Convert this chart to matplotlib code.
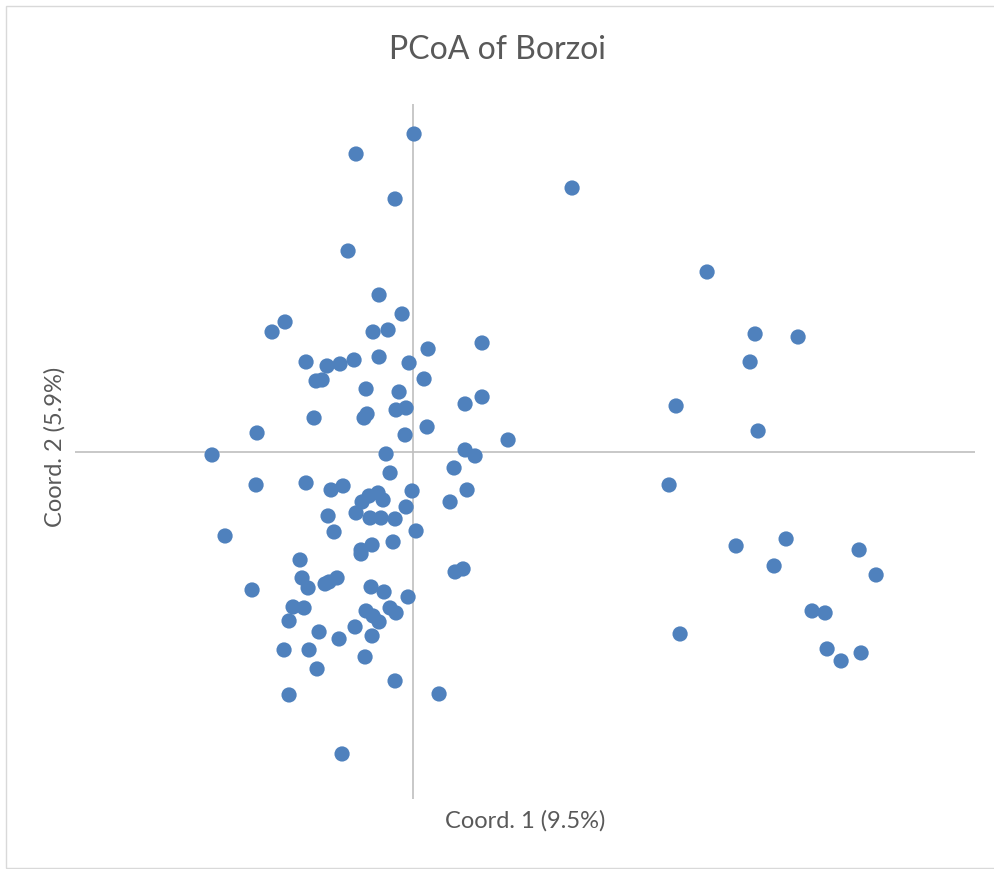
import matplotlib.pyplot as plt
from matplotlib.patches import Rectangle

# PCoA coordinates (arbitrary units)
coord1 = [0.01, -0.57, -0.18, -0.65, 1.59,
          -0.34, -0.11, -1.28, -1.41, -0.40, -0.25, 0.69, 0.15, -1.07, -0.86,
          -0.73, -0.59, -0.34, -0.04, 0.11, -0.97, -0.91, -0.47, -0.14, 0.69,
          0.52, -0.17, -0.07, -0.99, -0.49, -0.46, 0.14, -1.56, -0.08, 0.95,
          -2.01, -0.27, 0.52, 0.62, 0.41, -0.23,
          -1.57, -1.07, -0.82, -0.70, -0.44, -0.35, -0.30, -0.51, -0.01, 0.54,
          0.37, -0.07, -0.57, -0.85, -0.43, -0.32, -0.18, -0.79, 0.03, -1.88,
          -0.41, -0.52, -0.52, -0.20, -1.13, 0.42, 0.50, -1.11, -1.05, -0.88,
          -0.84, -0.76, -1.61, -0.42, -0.29, -0.05, -1.20, -1.09, -1.24, -0.47,
          -0.40, -0.34, -0.23, -0.17, -0.94, -0.74, -0.58, -0.41,
          -1.29, -1.04, -0.48, -0.96, -0.18, -1.24, 0.26, -0.71,
          2.94, 3.42, 3.85, 3.37, 2.63, 3.45, 2.56, 3.23, 3.73, 4.46,
          3.61, 4.63, 3.99, 4.12, 2.67, 4.14, 4.48, 4.28]
coord2 = [3.18, 2.98, 2.53, 2.01, 2.64,
          1.57, 1.38, 1.30, 1.20, 1.20, 1.22, 1.09, 1.03, 0.90, 0.86,
          0.88, 0.92, 0.95, 0.89, 0.73, 0.71, 0.72, 0.63, 0.60, 0.55,
          0.48, 0.42, 0.44, 0.34, 0.34, 0.38, 0.25, 0.19, 0.17, 0.12,
          -0.03, -0.02, 0.02, -0.04, -0.16, -0.21,
          -0.33, -0.31, -0.38, -0.34, -0.44, -0.41, -0.48, -0.50, -0.39, -0.38,
          -0.50, -0.55, -0.61, -0.64, -0.66, -0.66, -0.67, -0.80, -0.79, -0.84,
          -0.93, -0.98, -1.02, -0.90, -1.08, -1.20, -1.17, -1.26, -1.36, -1.32,
          -1.30, -1.26, -1.38, -1.35, -1.40, -1.45, -1.55, -1.56, -1.69, -1.59,
          -1.64, -1.70, -1.56, -1.61, -1.80, -1.87, -1.75, -1.84,
          -1.98, -1.98, -2.05, -2.17, -2.29, -2.43, -2.42, -3.02,
          1.80, 1.18, 1.15, 0.90, 0.46, 0.21, -0.33, -0.94, -0.87, -0.98,
          -1.14, -1.23, -1.59, -1.61, -1.82, -1.97, -2.01, -2.09]

title = "PCoA of Borzoi"
xlabel = "Coord. 1 (9.5%)"
ylabel = "Coord. 2 (5.9%)"

plt.rcParams['font.family'] = ['Lato', 'DejaVu Sans']

fig = plt.figure(figsize=(9.94, 8.69), dpi=100)
ax = fig.add_axes([0.0755, 0.0806, 0.9055, 0.7997])

# axes cross at the origin, Excel style
ax.axhline(0, color='#bfbfbf', lw=1.2, zorder=1)
ax.axvline(0, color='#bfbfbf', lw=1.2, zorder=1)
ax.scatter(coord1, coord2, s=120, color='#4f81bd', edgecolors='none', zorder=3)

ax.set_xlim(-3.38, 5.62)
ax.set_ylim(-3.47, 3.48)
ax.set_xticks([])
ax.set_yticks([])
for sp in ax.spines.values():
    sp.set_visible(False)

fig.text(0.5, 1 - 50 / 869, title, ha='center', va='center', fontsize=23, color='#595959')
fig.text(525 / 994, 1 - 821 / 869, xlabel, ha='center', va='center', fontsize=17, color='#595959')
fig.text(55 / 994, 1 - 447 / 869, ylabel, ha='center', va='center', rotation=90,
         fontsize=17, color='#595959')

# chart border (right edge falls outside the picture)
fig.patches.append(Rectangle((5.5 / 994, 1.5 / 869), 1000 / 994, 862 / 869, transform=fig.transFigure,
                             fill=False, edgecolor='#d9d9d9', lw=1))

fig.savefig('out.png', dpi=100)
